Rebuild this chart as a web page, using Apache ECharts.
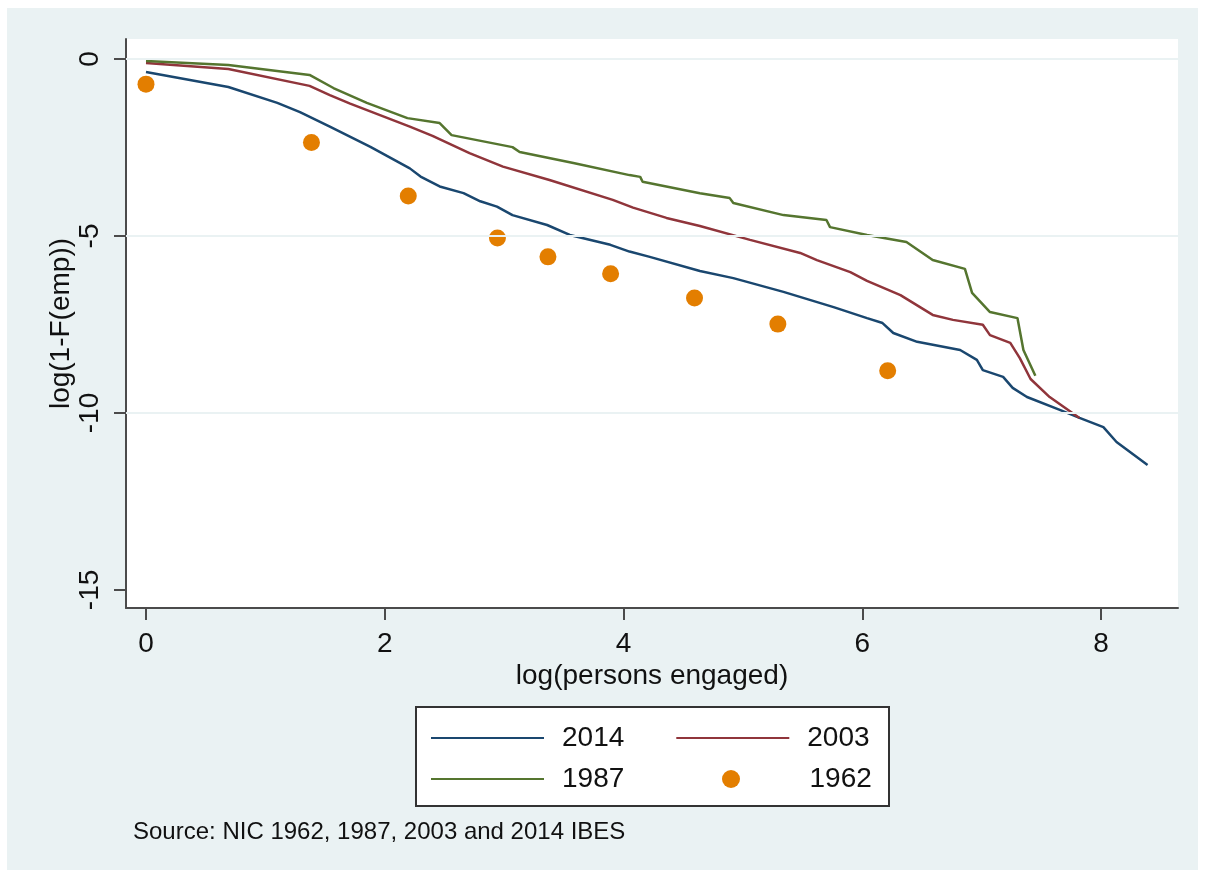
<!DOCTYPE html>
<html>
<head>
<meta charset="utf-8">
<script src="https://cdn.jsdelivr.net/npm/echarts@6/dist/echarts.min.js"></script>
<style>
html, body { margin: 0; padding: 0; background: #fff; }
#main { position: absolute; left: 7px; top: 8px; width: 1191px; height: 862px; }
</style>
</head>
<body>
<div id="main"></div>
<script>
// log(persons engaged) vs log(1-F(emp))
var x2014 = [0, 0.69, 1.10, 1.29, 1.54, 1.88, 2.21, 2.30, 2.46, 2.66, 2.80, 2.94, 3.07, 3.36, 3.55, 3.89, 4.05, 4.22, 4.64, 4.92, 5.34, 5.76, 6.04, 6.17, 6.26, 6.46, 6.82, 6.96, 7.01, 7.18, 7.26, 7.38, 7.66, 7.82, 8.02, 8.13, 8.39];
var y2014 = [-0.37, -0.79, -1.24, -1.50, -1.91, -2.48, -3.09, -3.32, -3.60, -3.79, -4.02, -4.17, -4.41, -4.69, -4.97, -5.25, -5.44, -5.59, -5.99, -6.19, -6.58, -7.01, -7.32, -7.46, -7.74, -7.99, -8.22, -8.50, -8.79, -8.98, -9.29, -9.55, -9.92, -10.14, -10.40, -10.82, -11.47];

var x2003 = [0, 0.69, 1.37, 1.54, 1.71, 2.21, 2.40, 2.71, 2.99, 3.38, 3.91, 4.08, 4.36, 4.64, 5.06, 5.48, 5.62, 5.90, 6.04, 6.32, 6.59, 6.76, 7.01, 7.07, 7.24, 7.32, 7.41, 7.57, 7.82];
var y2003 = [-0.11, -0.28, -0.76, -1.02, -1.26, -1.91, -2.17, -2.66, -3.04, -3.42, -3.98, -4.20, -4.49, -4.72, -5.11, -5.48, -5.68, -6.02, -6.27, -6.67, -7.23, -7.37, -7.51, -7.80, -8.02, -8.45, -9.04, -9.55, -10.14];

var x1987 = [0, 0.69, 1.37, 1.57, 1.85, 2.19, 2.46, 2.56, 3.07, 3.13, 3.58, 4.05, 4.14, 4.16, 4.64, 4.89, 4.92, 5.34, 5.70, 5.73, 6.04, 6.37, 6.59, 6.86, 6.92, 7.07, 7.30, 7.35, 7.45];
var y1987 = [-0.06, -0.17, -0.45, -0.82, -1.24, -1.67, -1.81, -2.15, -2.49, -2.63, -2.94, -3.28, -3.33, -3.47, -3.79, -3.93, -4.07, -4.41, -4.55, -4.75, -4.97, -5.17, -5.68, -5.93, -6.61, -7.15, -7.32, -8.22, -8.95];

var x1962 = [0, 1.386, 2.197, 2.944, 3.367, 3.892, 4.595, 5.293, 6.213];
var y1962 = [-0.71, -2.36, -3.87, -5.06, -5.59, -6.07, -6.75, -7.49, -8.81];

var xTicks = [0, 2, 4, 6, 8];
var yTicks = [-15, -10, -5, 0];
var yGrid = [0, -5, -10];

function pairs(xs, ys) {
	var out = [];
	for (var i = 0; i < xs.length; i++) out.push([xs[i], ys[i]]);
	return out;
}

var FONT = '"Liberation Sans", Arial, sans-serif';
var AXIS = '#4b4b4b';

var myChart = echarts.init(document.getElementById('main'));
var legendText = { fontFamily: FONT, fontSize: 28, color: '#111', lineHeight: 28, padding: [0, 0, 0, 13] };
var legendBase = {
	orient: 'horizontal',
	left: 423,
	itemWidth: 113,
	itemHeight: 18,
	itemGap: 51,
	padding: 0,
	selectedMode: false,
	textStyle: legendText
};
var noDot = { opacity: 0 };
var option = {
	backgroundColor: '#eaf2f3',
	animation: false,
	grid: {
		left: 119, top: 31, width: 1052, height: 569,
		show: true, backgroundColor: '#fff', borderWidth: 0
	},
	xAxis: {
		type: 'value',
		min: -0.1675, max: 8.645,
		name: 'log(persons engaged)',
		nameLocation: 'middle',
		nameGap: 54,
		nameMoveOverlap: false,
		nameTextStyle: { fontFamily: FONT, fontSize: 28, color: '#111' },
		axisLine: { show: true, onZero: false, lineStyle: { color: AXIS, width: 2 } },
		axisTick: { show: true, length: 12, lineStyle: { color: AXIS, width: 2 }, customValues: xTicks },
		axisLabel: { fontFamily: FONT, fontSize: 28, color: '#111', margin: 22, customValues: xTicks },
		splitLine: { show: false }
	},
	yAxis: {
		type: 'value',
		min: -15.51, max: 0.565,
		name: 'log(1-F(emp))',
		nameLocation: 'middle',
		nameGap: 51,
		nameMoveOverlap: false,
		nameTextStyle: { fontFamily: FONT, fontSize: 28, color: '#111' },
		axisLine: { show: true, onZero: false, lineStyle: { color: AXIS, width: 2 } },
		axisTick: { show: true, length: 12, lineStyle: { color: AXIS, width: 2 }, customValues: yTicks },
		axisLabel: { fontFamily: FONT, fontSize: 28, color: '#111', margin: 22, rotate: 90, customValues: yTicks },
		splitLine: { show: false }
	},
	legend: [
		Object.assign({}, legendBase, { top: 716, data: [{ name: '2014', itemStyle: noDot }, { name: '2003', itemStyle: noDot }] }),
		Object.assign({}, legendBase, { top: 757, data: [{ name: '1987', itemStyle: noDot }] }),
		Object.assign({}, legendBase, { top: 757, left: 715, data: ['1962'],
			textStyle: Object.assign({}, legendText, { padding: [0, 0, 0, 17] }) })
	],
	graphic: [
		{
			type: 'rect', z: 1,
			shape: { x: 409, y: 699, width: 473, height: 99 },
			style: { fill: '#fff', stroke: '#333', lineWidth: 2 }
		},
		{
			type: 'text', left: 126, top: 812,
			style: { text: 'Source: NIC 1962, 1987, 2003 and 2014 IBES', font: '24px ' + FONT, fill: '#111' }
		}
	],
	series: [
		{
			type: 'line', z: 1, data: [], silent: true,
			markLine: {
				silent: true, symbol: ['none', 'none'], label: { show: false },
				lineStyle: { color: '#eaf2f3', width: 2, type: 'solid' },
				data: yGrid.map(function (v) { return { yAxis: v }; })
			}
		},
		{ name: '1962', type: 'scatter', data: pairs(x1962, y1962), symbolSize: 17, itemStyle: { color: '#e37e00', opacity: 1 } },
		{ name: '2014', type: 'line', data: pairs(x2014, y2014), symbol: 'none', lineStyle: { color: '#1a476f', width: 2.5 }, itemStyle: { color: '#1a476f' } },
		{ name: '2003', type: 'line', data: pairs(x2003, y2003), symbol: 'none', lineStyle: { color: '#90353b', width: 2.5 }, itemStyle: { color: '#90353b' } },
		{ name: '1987', type: 'line', data: pairs(x1987, y1987), symbol: 'none', lineStyle: { color: '#55752f', width: 2.5 }, itemStyle: { color: '#55752f' } }
	]
};
myChart.setOption(option);
</script>
</body>
</html>
